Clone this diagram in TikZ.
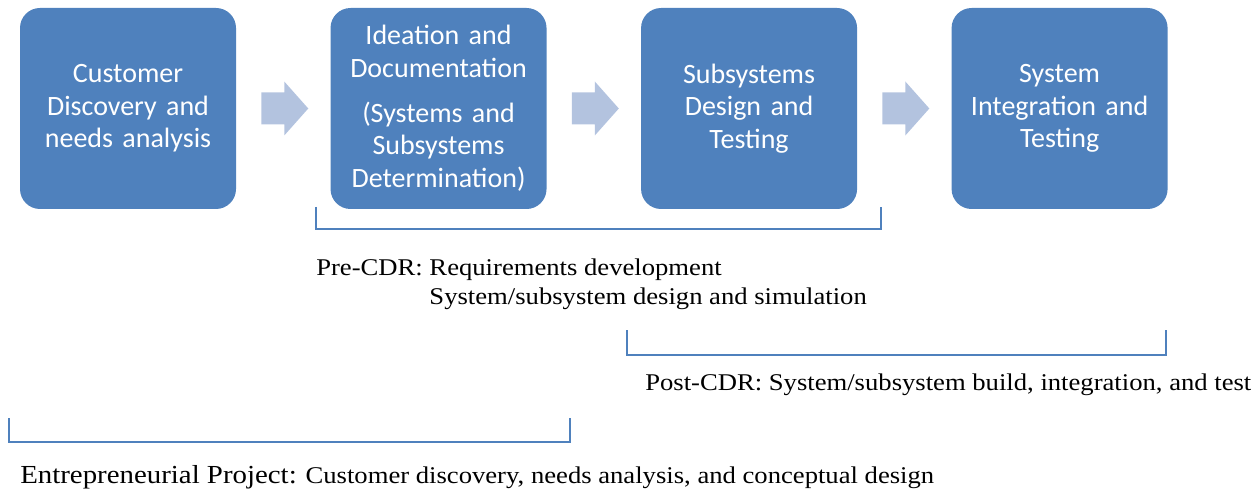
\documentclass[tikz,border=0pt]{standalone}
\usepackage{graphicx}
\usepackage{fontspec}
\setmainfont{Liberation Serif}
\newfontfamily\boxfont{Carlito}
\usetikzlibrary{positioning,calc}
\definecolor{stageblue}{HTML}{4F81BD}
\definecolor{arrowblue}{HTML}{B3C3DF}
\tikzset{
  stage/.style={fill=stageblue, rounded corners=15pt, minimum width=162pt,
    minimum height=150.75pt, text width=160pt, align=center, inner sep=0pt,
    text=white, font=\boxfont\fontsize{21}{24.5}\selectfont},
  phase/.style={draw=stageblue, line width=1.3pt},
  note/.style={inner sep=0pt, anchor=base west, font=\fontsize{18}{22}\selectfont},
}
\begin{document}
\begin{tikzpicture}[x=0.75pt, y=-0.75pt]
  \useasboundingbox (0,0) rectangle (1255,495);
  % stages
  \node[stage] (cust) at (128,108.5) {Customer\\Discovery and\\needs analysis};
  \node[stage, right=70.5pt of cust] (idea) {Ideation and\\Documentation\\[9pt](Systems and\\Subsystems\\Determination)};
  \node[stage, right=70.5pt of idea] (subs) {Subsystems\\Design and\\Testing};
  \node[stage, right=70.5pt of subs] (integ) {System\\Integration and\\Testing};
  % block arrows
  \foreach \a/\b in {cust/idea, idea/subs, subs/integ}
    \fill[arrowblue] ($(\a.east)+(25,-16)$) -- ($(\a.east)+(48,-16)$)
      -- ($(\a.east)+(48,-27)$) -- ($(\b.west)+(-22,0)$)
      -- ($(\a.east)+(48,27)$) -- ($(\a.east)+(48,16)$)
      -- ($(\a.east)+(25,16)$) -- cycle;
  % phases
  \draw[phase] (316,207) |- (881,229) -- (881,207);
  \draw[phase] (627,330) |- (1166,355) -- (1166,330);
  \draw[phase] (9,418) |- (570,442) -- (570,418);
  \node[note] (precdr) at (316,275) {\scalebox{1.11}[1]{\begin{tabular}[t]{@{}l@{\ }l@{}}Pre-CDR: & Requirements development\\ & System/subsystem design and simulation\end{tabular}}};
  \node[note] (postcdr) at (645,390) {\scalebox{1.11}[1]{Post-CDR: System/subsystem build, integration, and test}};
  \node[note] (entre) at (20,483) {\scalebox{1.11}[1]{{\fontsize{19.5}{22}\selectfont Entrepreneurial Project:} Customer discovery, needs analysis, and conceptual design}};
\end{tikzpicture}
\end{document}
